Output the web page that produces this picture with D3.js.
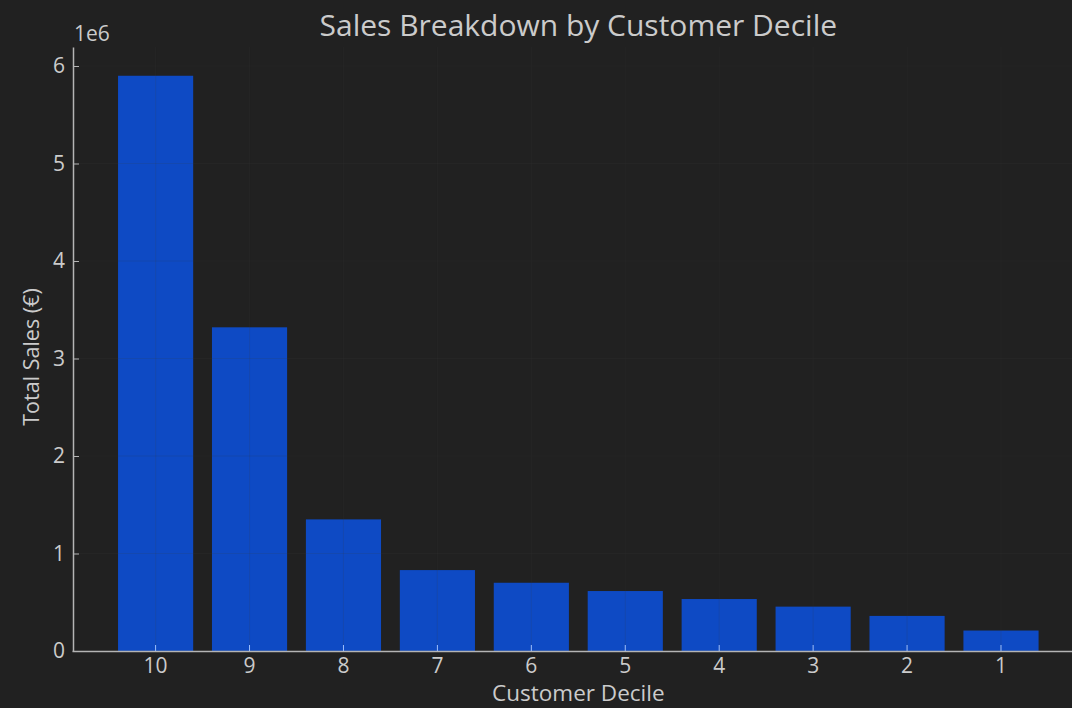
<!DOCTYPE html>
<html><head><meta charset="utf-8">
<script src="https://cdn.jsdelivr.net/npm/d3@7"></script>
<style>
html,body{margin:0;padding:0;background:#212121;}
svg{display:block;}
text{font-family:"Open Sans","Noto Sans",sans-serif;}
</style></head>
<body>
<svg id="chart" width="1072" height="708"></svg>
<script>
const categories = ["10","9","8","7","6","5","4","3","2","1"];
const sales = [5900000, 3320000, 1350000, 830000, 700000, 615000, 533000, 455000, 360000, 210000];
const yTicks = [0, 1, 2, 3, 4, 5, 6];
const title = "Sales Breakdown by Customer Decile";
const xLabel = "Customer Decile";
const yLabel = "Total Sales (€)";
const offsetText = "1e6";

(function () {
const W = 1072, H = 708;
const mLeft = 72, mRight = 1084.6, mTop = 47, mBottom = 651;
const svg = d3.select("#chart");
svg.append("rect").attr("width", W).attr("height", H).attr("fill", "#212121");

const x = d3.scaleBand().domain(categories).range([mLeft, mRight]).paddingInner(0.2).paddingOuter(0.49);
const y = d3.scaleLinear().domain([0, d3.max(sales) / 1e6 * 1.05]).range([mBottom, mTop]);

const textCol = "#cbcbcb", axisCol = "#b4b4b4";

// bars
svg.append("g").selectAll("rect").data(sales).join("rect")
  .attr("x", (d, i) => x(categories[i]))
  .attr("width", x.bandwidth())
  .attr("y", d => y(d / 1e6))
  .attr("height", d => mBottom - y(d / 1e6))
  .attr("fill", "#0e4ac4");

// faint grid (visible mainly over bars)
const grid = svg.append("g").attr("stroke", "#3a3a3a").attr("stroke-opacity", 0.15).attr("stroke-width", 1);
yTicks.forEach(t => grid.append("line").attr("x1", mLeft).attr("x2", W).attr("y1", y(t)).attr("y2", y(t)));
categories.forEach(c => grid.append("line").attr("x1", x(c) + x.bandwidth() / 2).attr("x2", x(c) + x.bandwidth() / 2).attr("y1", mTop).attr("y2", mBottom));

// y axis
const yAxis = d3.axisLeft(y).tickValues(yTicks).tickFormat(d3.format("d")).tickSizeInner(-6).tickSizeOuter(0).tickPadding(8);
const gy = svg.append("g").attr("transform", `translate(${mLeft + 1},0)`).call(yAxis);
gy.select(".domain").attr("stroke", axisCol).attr("stroke-width", 1.5);
gy.selectAll(".tick line").attr("stroke", axisCol);
gy.selectAll(".tick text").attr("fill", textCol).attr("font-size", 21);

// x axis
const xAxis = d3.axisBottom(x).tickSizeInner(-6).tickSizeOuter(0).tickPadding(7);
const gx = svg.append("g").attr("transform", `translate(0,${mBottom})`).call(xAxis);
gx.select(".domain").attr("stroke", axisCol).attr("stroke-width", 1.5);
gx.selectAll(".tick line").attr("stroke", "#9ec0ff");
gx.selectAll(".tick text").attr("fill", textCol).attr("font-size", 21);

// texts
svg.append("text").attr("x", (mLeft + mRight) / 2).attr("y", 36).attr("text-anchor", "middle")
  .attr("fill", textCol).attr("font-size", 30).text(title);
svg.append("text").attr("x", (mLeft + mRight) / 2).attr("y", 701).attr("text-anchor", "middle")
  .attr("fill", textCol).attr("font-size", 22.5).text(xLabel);
svg.append("text").attr("transform", `translate(39,${357}) rotate(-90)`).attr("text-anchor", "middle")
  .attr("fill", textCol).attr("font-size", 21.5).text(yLabel);
svg.append("text").attr("x", 74).attr("y", 41).attr("fill", textCol).attr("font-size", 21).text(offsetText);
})();
</script>
</body></html>
